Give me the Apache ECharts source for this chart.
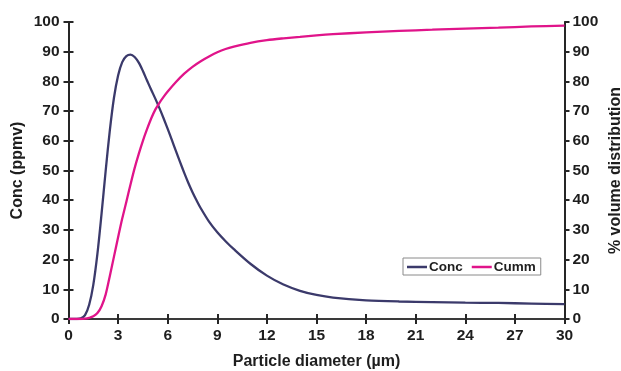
<!DOCTYPE html>
<html>
<head>
<meta charset="utf-8">
<script src="https://cdn.jsdelivr.net/npm/echarts@6/dist/echarts.min.js"></script>
<style>
html,body{margin:0;padding:0;background:#fff;}
#c{width:621px;height:371px;}
</style>
</head>
<body>
<div id="c"></div>
<script>
// Data
const seriesNames = ['Conc', 'Cumm'];
const concX = [0, 0.25, 0.5, 0.75, 1.0, 1.25, 1.5, 1.75, 2.0, 2.25, 2.5, 2.75, 3.0, 3.25, 3.5, 3.75, 4.0, 4.25, 4.5, 4.75, 5.0, 5.25, 5.5, 5.75, 6.0, 6.25, 6.5, 6.75, 7.0, 7.25, 7.5, 7.75, 8.0, 8.5, 9.0, 9.5, 10, 11, 12, 13, 14, 15, 16, 18, 20, 22, 24, 26, 28, 30];
const concY = [0, 0, 0, 0.2, 1.3, 4.8, 11.5, 22, 35.5, 50, 63.5, 74.5, 82, 86.5, 88.5, 89, 88.2, 86.3, 83.5, 80.3, 77.2, 74.2, 71, 67.6, 64, 60.3, 56.5, 52.8, 49.2, 45.8, 42.7, 39.9, 37.3, 32.8, 29.2, 26.2, 23.5, 18.6, 14.6, 11.6, 9.5, 8.1, 7.2, 6.3, 5.9, 5.7, 5.5, 5.4, 5.2, 5.0];
const cummX = [0, 0.5, 0.75, 1.0, 1.25, 1.5, 1.75, 2.0, 2.25, 2.5, 2.75, 3.0, 3.25, 3.5, 3.75, 4.0, 4.25, 4.5, 4.75, 5.0, 5.25, 5.5, 5.75, 6.0, 6.5, 7.0, 7.5, 8.0, 8.5, 9.0, 9.5, 10, 11, 12, 13, 14, 15, 16, 18, 20, 22, 24, 26, 28, 30];
const cummY = [0, 0, 0, 0.1, 0.4, 0.9, 2.0, 4.3, 8.3, 14.5, 21, 27.5, 33.8, 39.5, 45.3, 50.8, 55.6, 60, 63.9, 67.5, 70.5, 72.8, 74.8, 76.6, 79.8, 82.6, 84.9, 86.8, 88.4, 89.8, 90.9, 91.7, 93.0, 93.9, 94.5, 95.0, 95.5, 95.9, 96.5, 97.0, 97.4, 97.8, 98.1, 98.5, 98.8];
const xName = 'Particle diameter (µm)';
const yLeftName = 'Conc (ppmv)';
const yRightName = '% volume distribution';

const FONT = "'Liberation Sans', Arial, sans-serif";
const AXC = '#262626';
const TXT = '#1e1e1e';

const chart = echarts.init(document.getElementById('c'));
const lbl = {fontFamily: FONT, fontWeight: 'bold', fontSize: 15.5, color: TXT};
const nameStyle = {fontFamily: FONT, fontWeight: 'bold', fontSize: 16, color: TXT};
const axLine = {show: true, onZero: false, lineStyle: {color: AXC, width: 2}};

chart.setOption({
  backgroundColor: '#ffffff',
  animation: false,
  grid: {left: 68.5, right: 56.5, top: 22, bottom: 52, containLabel: false, outerBoundsMode: 'none'},
  legend: {
    data: seriesNames,
    left: 403, top: 258,
    padding: [2, 5, 1, 4],
    borderColor: '#8a8a8a', borderWidth: 1,
    icon: 'rect', itemWidth: 20, itemHeight: 2.5, itemGap: 9,
    textStyle: {fontFamily: FONT, fontWeight: 'bold', fontSize: 13.5, color: TXT, padding: [0, 0, 0, -3]}
  },
  xAxis: [
    {type: 'value', min: 0, max: 30, interval: 3, position: 'bottom',
     axisLine: axLine, axisTick: {show: true, length: 5, lineStyle: {color: AXC, width: 2}},
     axisLabel: Object.assign({margin: 9}, lbl), splitLine: {show: false},
     name: xName, nameLocation: 'middle', nameGap: 35, nameMoveOverlap: false, nameTextStyle: nameStyle},
    {type: 'value', min: 0, max: 30, interval: 3, position: 'bottom',
     axisLine: {show: false}, axisTick: {show: true, inside: true, length: 5, lineStyle: {color: AXC, width: 2}},
     axisLabel: {show: false}, splitLine: {show: false}},
    {type: 'value', min: 0, max: 30, interval: 3, position: 'top',
     axisLine: {show: true, lineStyle: {color: '#3a3a3a', width: 2}}, axisTick: {show: false},
     axisLabel: {show: false}, splitLine: {show: false}}
  ],
  yAxis: [
    {type: 'value', min: 0, max: 100, interval: 10, position: 'left',
     axisLine: axLine, axisTick: {show: true, length: 5, lineStyle: {color: AXC, width: 2}},
     axisLabel: Object.assign({margin: 9}, lbl), splitLine: {show: false},
     name: yLeftName, nameLocation: 'middle', nameGap: 43, nameMoveOverlap: false, nameRotate: 90, nameTextStyle: nameStyle},
    {type: 'value', min: 0, max: 100, interval: 10, position: 'left',
     axisLine: {show: false}, axisTick: {show: true, inside: true, length: 5, lineStyle: {color: AXC, width: 2}},
     axisLabel: {show: false}, splitLine: {show: false}},
    {type: 'value', min: 0, max: 100, interval: 10, position: 'right',
     axisLine: axLine, axisTick: {show: true, length: 5, lineStyle: {color: AXC, width: 2}},
     axisLabel: Object.assign({margin: 8}, lbl), splitLine: {show: false},
     name: yRightName, nameLocation: 'middle', nameGap: 43, nameMoveOverlap: false, nameRotate: 90, nameTextStyle: nameStyle},
    {type: 'value', min: 0, max: 100, interval: 10, position: 'right',
     axisLine: {show: false}, axisTick: {show: true, inside: true, length: 5, lineStyle: {color: AXC, width: 2}},
     axisLabel: {show: false}, splitLine: {show: false}}
  ],
  series: [
    {name: seriesNames[0], type: 'line', xAxisIndex: 0, yAxisIndex: 0,
     data: concX.map((x, i) => [x, concY[i]]),
     smooth: 0.3, showSymbol: false,
     lineStyle: {color: '#3b3a6b', width: 2.3}, itemStyle: {color: '#3b3a6b'}},
    {name: seriesNames[1], type: 'line', xAxisIndex: 0, yAxisIndex: 2,
     data: cummX.map((x, i) => [x, cummY[i]]),
     smooth: 0.3, showSymbol: false,
     lineStyle: {color: '#e0148a', width: 2.3}, itemStyle: {color: '#e0148a'}}
  ]
});
</script>
</body>
</html>
